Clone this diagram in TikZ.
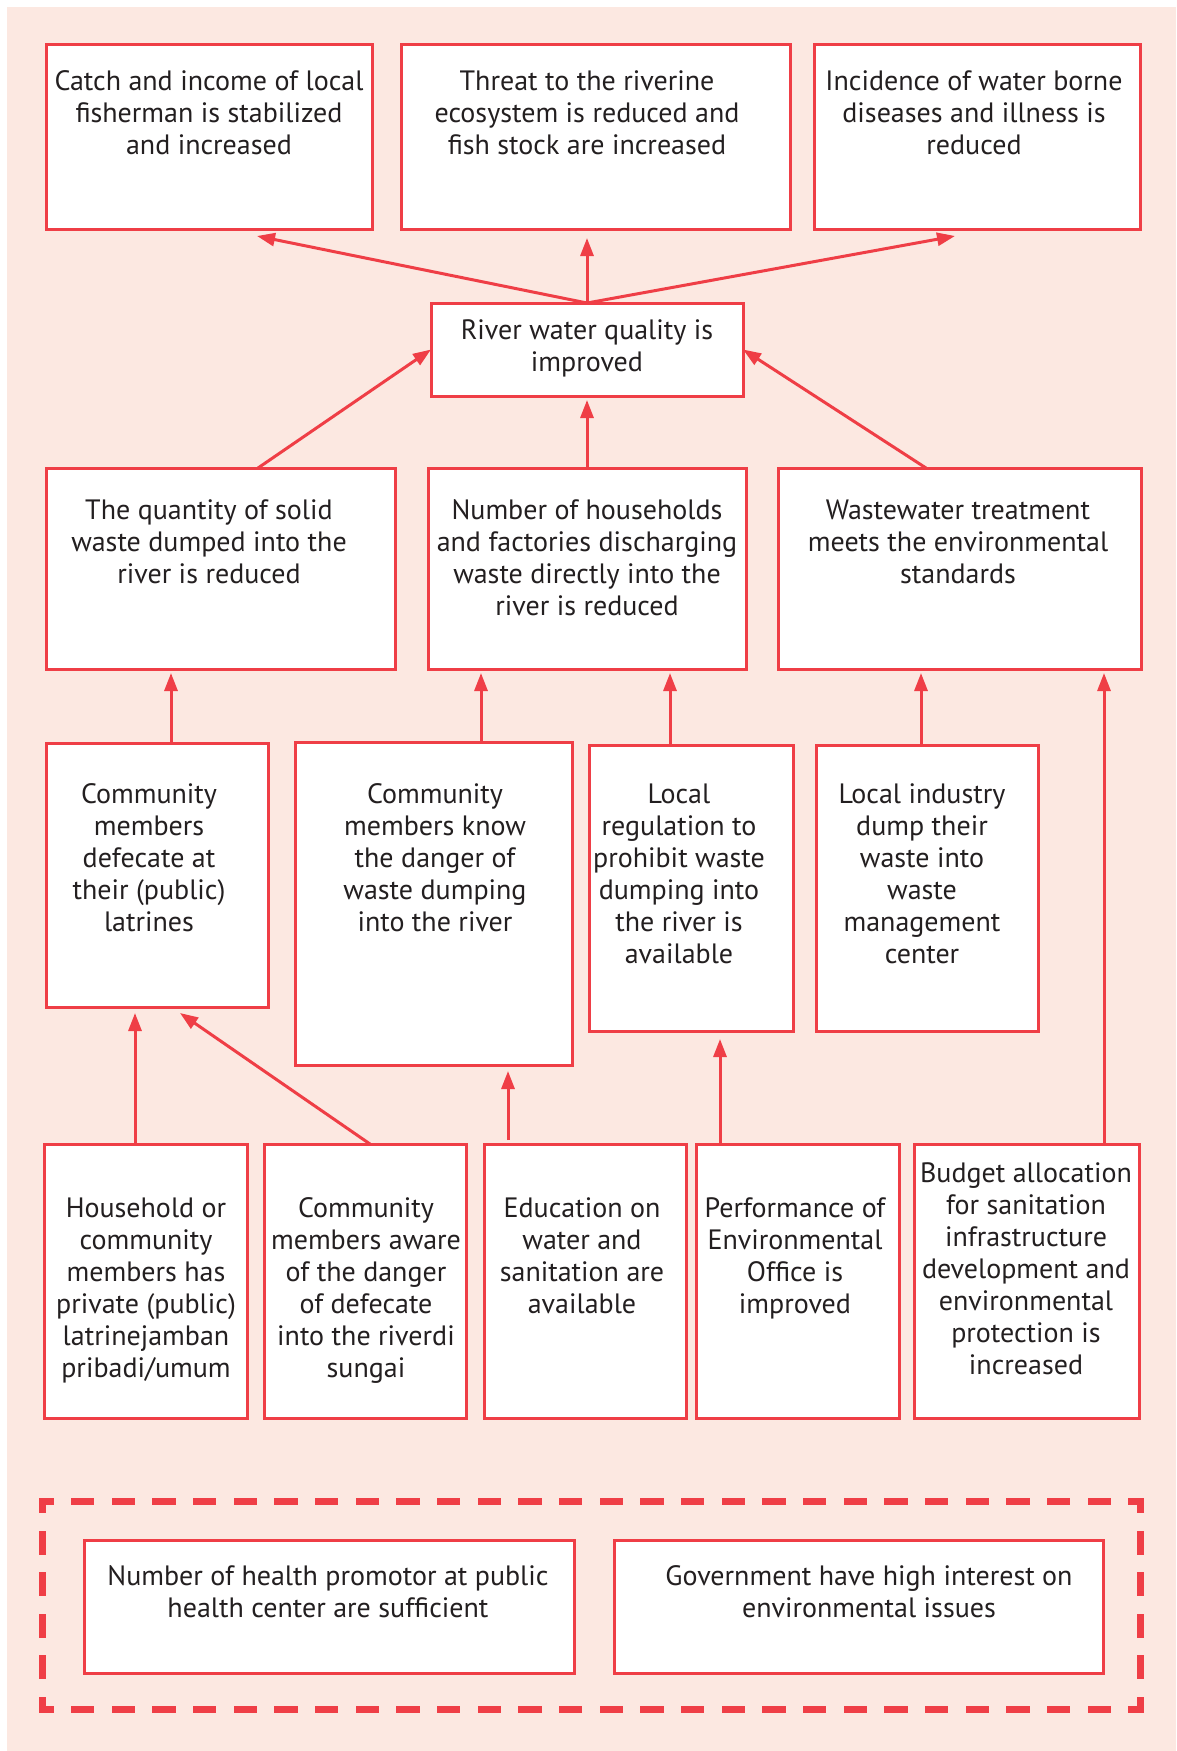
\documentclass[tikz,border=0pt]{standalone}
\usepackage{fontspec}
\setmainfont{PT Sans}
\usetikzlibrary{arrows.meta,calc}
\definecolor{lfred}{HTML}{EF3E46}
\definecolor{lfbg}{HTML}{FCE8E1}
\definecolor{lfink}{HTML}{231F20}

% box: name, x1, y1, x2, y2, text centre x, first baseline y, lines
\newcommand\lfbox[8]{%
  \node[lfframe, minimum width={(#4-#2)*1pt}, minimum height={(#5-#3)*1pt}]
    (#1) at ({(#2+#4)/2},{(#3+#5)/2}) {};
  \node[lftext, anchor=north] (#1-t) at (#6,{#7-22.4}) {\strut#8};
}

\begin{document}
\begin{tikzpicture}[x=1pt,y=-1pt,
  lfframe/.style={draw=lfred, fill=white, line width=3pt, inner sep=0pt, outer sep=0pt},
  lftext/.style={text=lfink, align=center, inner sep=0pt,
    font=\fontsize{28}{32}\selectfont},
  lfarrow/.style={draw=lfred, line width=3pt,
    -{Triangle[length=18pt,width=13pt]}},
  lfdash/.style={draw=lfred, line width=7pt, line cap=rect},
]
\useasboundingbox (0,0) rectangle (1176,1751);
\fill[lfbg] (7,7) rectangle (1176,1751);

% outcomes
\lfbox{T1}{46}{44}{372}{229}{209}{90.5}{Catch and income of local\\fisherman is stabilized\\and increased}
\lfbox{T2}{401}{44}{790}{229}{587}{90.5}{Threat to the riverine\\ecosystem is reduced and\\fish stock are increased}
\lfbox{T3}{814}{44}{1140}{229}{974}{90.5}{Incidence of water borne\\diseases and illness is\\reduced}

% purpose
\lfbox{R}{431}{303}{743}{396}{587}{339}{River water quality is\\improved}

% results
\lfbox{A}{46}{468}{395}{669}{209}{519}{The quantity of solid\\waste dumped into the\\river is reduced}
\lfbox{B}{428}{468}{746}{669}{587}{519}{Number of households\\and factories discharging\\waste directly into the\\river is reduced}
\lfbox{C}{778}{468}{1141}{669}{958}{519}{Wastewater treatment\\meets the environmental\\standards}

% outputs
\lfbox{D}{46}{743}{268}{1007}{149}{803}{Community\\members\\defecate at\\their (public)\\latrines}
\lfbox{E}{295}{742}{572}{1065}{435}{803}{Community\\members know\\the danger of\\waste dumping\\into the river}
\lfbox{F}{589}{745}{793}{1031}{679}{803}{Local\\regulation to\\prohibit waste\\dumping into\\the river is\\available}
\lfbox{G}{816}{745}{1038}{1031}{922}{803}{Local industry\\dump their\\waste into\\waste\\management\\center}

% activities
\lfbox{H}{44}{1144}{247}{1418}{146}{1217}{Household or\\community\\members has\\private (public)\\latrinejamban\\pribadi/umum}
\lfbox{I}{264}{1144}{466}{1418}{366}{1217}{Community\\members aware\\of the danger\\of defecate\\into the riverdi\\sungai}
\lfbox{J}{484}{1144}{686}{1418}{582}{1217}{Education on\\water and\\sanitation are\\available}
\lfbox{K}{696}{1144}{899}{1418}{795}{1217}{Performance of\\Environmental\\Office is\\improved}
\lfbox{L}{914}{1144}{1139}{1418}{1026}{1182}{Budget allocation\\for sanitation\\infrastructure\\development and\\environmental\\protection is\\increased}

% assumptions frame: each side dashed so that every corner is a solid elbow
\coordinate (fa) at (42,1501);
\coordinate (fb) at (1140,1501);
\coordinate (fc) at (1140,1709);
\coordinate (fd) at (42,1709);
\draw[lfdash, dash pattern=on 16.5pt off 24.167pt, dash phase=8.25pt] (fa) -- (fb);
\draw[lfdash, dash pattern=on 16.5pt off 24.167pt, dash phase=8.25pt] (fd) -- (fc);
\draw[lfdash, dash pattern=on 17pt off 24.6pt, dash phase=8.5pt] (fa) -- (fd);
\draw[lfdash, dash pattern=on 17pt off 24.6pt, dash phase=8.5pt] (fb) -- (fc);
\lfbox{M}{84}{1540}{574}{1673}{328}{1585}{Number of health promotor at public\\health center are sufficient}
\lfbox{N}{614}{1540}{1103}{1673}{869}{1585}{Government have high interest on\\environmental issues}

% purpose -> outcomes
\draw[lfarrow] (R.north) -- ($(T1.south west)+(211,7)$);
\draw[lfarrow, shorten >=9pt] (R.north) -- (R.north |- T2.south);
\draw[lfarrow] (R.north) -- ($(T3.south west)+(141,7)$);

% results -> purpose
\draw[lfarrow] ($(A.north west)+(212,0)$) -- (R.west);
\draw[lfarrow, shorten >=4pt] (B.north) -- (R.south);
\draw[lfarrow] ($(C.north west)+(148,0)$) -- (R.east);

% outputs -> results
\draw[lfarrow, shorten >=4pt] ($(D.north west)+(125,0)$) coordinate (d1) -- (d1 |- A.south);
\draw[lfarrow, shorten >=4pt] ($(E.north west)+(186,0)$) coordinate (e1) -- (e1 |- B.south);
\draw[lfarrow, shorten >=4pt] ($(F.north west)+(81,0)$) coordinate (f1) -- (f1 |- B.south);
\draw[lfarrow, shorten >=4pt] ($(G.north west)+(105,0)$) coordinate (g1) -- (g1 |- C.south);

% activities -> outputs
\draw[lfarrow, shorten >=6pt] ($(H.north west)+(91,0)$) coordinate (h1) -- (h1 |- D.south);
\draw[lfarrow] ($(I.north west)+(106,0)$) -- ($(D.south west)+(134,6)$);
\draw[lfarrow, shorten >=6pt] ($(J.north west)+(24,-4)$) coordinate (j1) -- (j1 |- E.south);
\draw[lfarrow, shorten >=8pt] ($(K.north west)+(24,0)$) coordinate (k1) -- (k1 |- F.south);
\draw[lfarrow, shorten >=4pt] ($(L.north west)+(190,0)$) coordinate (l1) -- (l1 |- C.south);
\end{tikzpicture}
\end{document}
